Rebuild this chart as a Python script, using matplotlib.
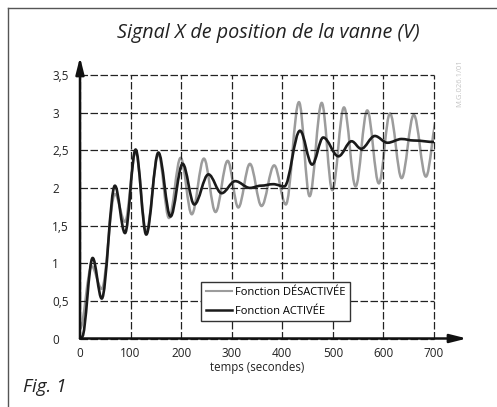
import matplotlib
matplotlib.use('Agg')
import matplotlib.pyplot as plt
from matplotlib.path import Path
from matplotlib.patches import PathPatch
from matplotlib.lines import Line2D

plt.rcParams['font.family'] = ['Open Sans', 'DejaVu Sans']

# Extrema of the two signals (temps en s, tension en V)
t_active = [0, 4, 25, 43, 69, 89, 110, 131, 155, 179, 203, 226, 254, 280, 307, 336,
            358, 382, 404, 435, 459, 481, 511, 537, 556, 583, 608, 636, 660, 702]
v_active = [0.0, 0.02, 1.07, 0.53, 2.03, 1.40, 2.51, 1.38, 2.47, 1.62, 2.32, 1.78, 2.18, 1.93, 2.09, 2.00,
            2.03, 2.05, 2.02, 2.76, 2.31, 2.67, 2.42, 2.62, 2.52, 2.69, 2.60, 2.65, 2.63, 2.61]

t_desact = [0, 23, 43, 69, 89, 110, 131, 155, 176, 199, 221, 245, 268, 292, 313, 336,
            359, 384, 407, 433, 454, 478, 499, 522, 545, 568, 591, 613, 636, 660, 684, 707]
v_desact = [0.13, 0.96, 0.66, 1.92, 1.55, 2.48, 1.42, 2.45, 1.60, 2.40, 1.65, 2.39, 1.68, 2.36, 1.74, 2.32,
            1.76, 2.30, 1.78, 3.14, 1.89, 3.13, 1.97, 3.07, 2.02, 3.03, 2.06, 2.99, 2.13, 2.97, 2.15, 2.95]

x_ticks = [0, 100, 200, 300, 400, 500, 600, 700]
y_ticks = [0, 0.5, 1, 1.5, 2, 2.5, 3, 3.5]
y_labels = ['0', '0,5', '1', '1,5', '2', '2,5', '3', '3,5']

GRIS = '#9c9c9c'
NOIR = '#1a1a1a'


def courbe_lisse(ax, ts, vs, couleur, lw):
    # courbe lissee entre les extremums (tangentes horizontales)
    verts = [(ts[0], vs[0])]
    codes = [Path.MOVETO]
    for i in range(1, len(ts)):
        dt = ts[i] - ts[i - 1]
        verts += [(ts[i - 1] + 0.36 * dt, vs[i - 1]),
                  (ts[i] - 0.36 * dt, vs[i]),
                  (ts[i], vs[i])]
        codes += [Path.CURVE4] * 3
    patch = PathPatch(Path(verts, codes), facecolor='none', edgecolor=couleur,
                      lw=lw, capstyle='round', joinstyle='round')
    ax.add_patch(patch)


W, H = 497, 407
fig = plt.figure(figsize=(W / 100, H / 100), dpi=100)
ax = fig.add_axes([80 / W, 1 - 338.5 / H, 354 / W, 263.5 / H])

ax.set_xlim(0, 700)
ax.set_ylim(0, 3.5)
for s in ax.spines.values():
    s.set_visible(False)

ax.set_xticks(x_ticks)
ax.set_yticks(y_ticks)
ax.set_yticklabels(y_labels, ha='left')
ax.tick_params(axis='both', length=0, labelsize=8.5, colors='#222222')
ax.tick_params(axis='y', pad=20)
ax.tick_params(axis='x', pad=6)
ax.grid(True, color='#222222', linestyle=(0, (6, 2)), linewidth=0.9)
for gl in ax.get_xgridlines() + ax.get_ygridlines():
    gl.set_clip_on(False)

courbe_lisse(ax, t_desact, v_desact, GRIS, 1.8)
courbe_lisse(ax, t_active, v_active, NOIR, 1.9)

# axes avec fleches
fleche = dict(arrowstyle='-|>,head_length=1.0,head_width=0.25', color='#111111',
              lw=1.8, shrinkA=0, shrinkB=0)
ax.annotate('', xy=(0, 1.068), xytext=(0, 0), xycoords='axes fraction',
            textcoords='axes fraction', arrowprops=fleche, annotation_clip=False)
ax.annotate('', xy=(1.093, 0), xytext=(0, 0), xycoords='axes fraction',
            textcoords='axes fraction', arrowprops=fleche, annotation_clip=False)

ax.set_xlabel('temps (secondes)', fontsize=8.3, color='#222222', labelpad=1)

handles = [Line2D([], [], color=GRIS, lw=1.5), Line2D([], [], color=NOIR, lw=1.8)]
leg = ax.legend(handles, ['Fonction DÉSACTIVÉE', 'Fonction ACTIVÉE'],
                loc='lower left', bbox_to_anchor=(0.342, 0.066), borderaxespad=0,
                fontsize=8, handlelength=2.4, handletextpad=0.25, labelspacing=0.7,
                borderpad=0.4, fancybox=False, framealpha=1, edgecolor='#333333')
leg.get_frame().set_linewidth(1.0)

fig.text(268 / W, 1 - 33 / H, 'Signal X de position de la vanne (V)', fontsize=14.2,
         style='italic', ha='center', va='center', color='#222222')
fig.text(23 / W, 1 - 387 / H, 'Fig. 1', fontsize=13.5, style='italic',
         ha='left', va='center', color='#222222')
fig.text(460 / W, 1 - 83 / H, 'M.G.026.1/01', fontsize=5.5, rotation=90,
         ha='center', va='center', color='#c4c4c4')

# cadre
fig.add_artist(Line2D([8 / W, 1], [1 - 8 / H, 1 - 8 / H], transform=fig.transFigure,
                      color='#555555', lw=1.0))
fig.add_artist(Line2D([8 / W, 8 / W], [0, 1 - 8 / H], transform=fig.transFigure,
                      color='#555555', lw=1.0))

fig.savefig('out.png', dpi=100)
